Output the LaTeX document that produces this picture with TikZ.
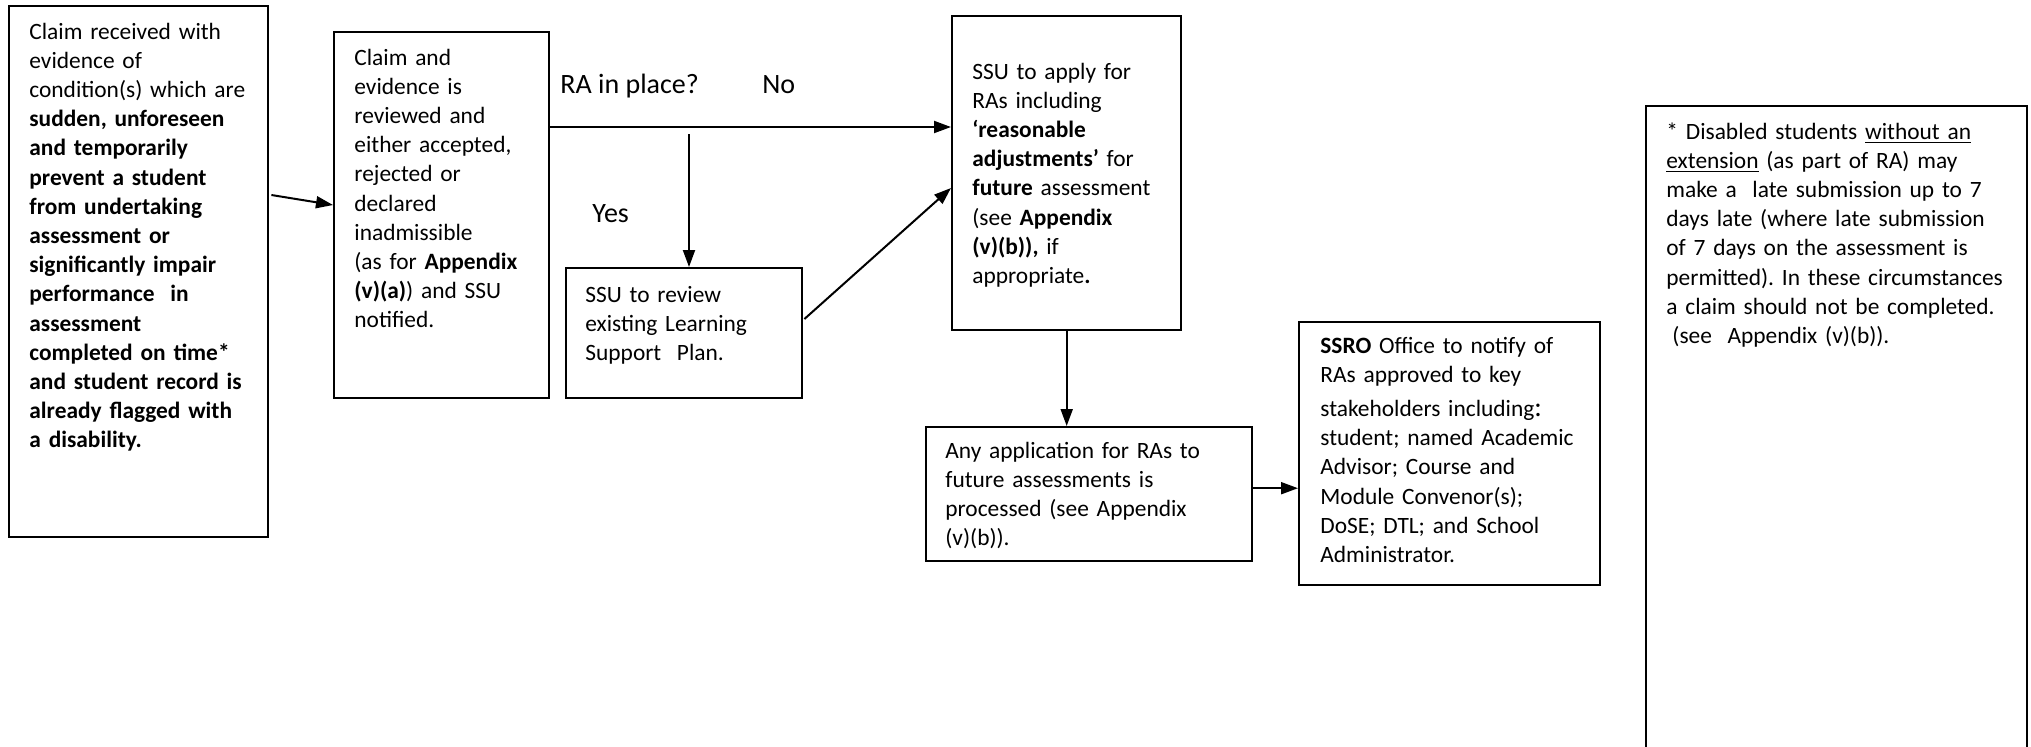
\documentclass[tikz,border=0pt]{standalone}
\usepackage{fontspec}
\setmainfont{Carlito}
\frenchspacing
\usetikzlibrary{arrows.meta,calc}
\begin{document}
\begin{tikzpicture}[x=0.5pt,y=-0.5pt,
  box/.style={draw, line width=1.2pt, inner sep=0pt, anchor=north west},
  txt/.style={anchor=base west, inner sep=0pt, align=left, text width=#1, font=\fontsize{11.7}{14.6}\selectfont},
  lbl/.style={anchor=base west, inner sep=0pt, font=\fontsize{14}{17}\selectfont},
  arr/.style={line width=1pt, -{Triangle[length=8.5pt,width=6pt]}}]
\useasboundingbox (0,0) rectangle (2031,746);
% boxes
\node[box, minimum width=129.5pt, minimum height=265.5pt] (b1) at (8,5) {};
\node[box, minimum width=107.5pt, minimum height=183pt] (b2) at (333,31) {};
\node[box, minimum width=118pt, minimum height=65pt] (b3) at (565,267) {};
\node[box, minimum width=114.5pt, minimum height=157pt] (b4) at (951,15) {};
\node[box, minimum width=163pt, minimum height=67pt] (b5) at (925,426) {};
\node[box, minimum width=150.5pt, minimum height=131.5pt] (b6) at (1298,321) {};
\node[box, minimum width=190.5pt, minimum height=350pt] (b7) at (1645,105) {};
% texts
\node[txt=125pt] (t1) at (29,39) {Claim received with\\ evidence of\\ condition(s) which are\\
\textbf{sudden, unforeseen}\\ \textbf{and temporarily}\\ \textbf{prevent a student}\\
\textbf{from undertaking}\\ \textbf{assessment or}\\ \textbf{significantly impair}\\
\textbf{performance~ in}\\ \textbf{assessment}\\ \textbf{completed on time*}\\
\textbf{and student record is}\\ \textbf{already flagged with}\\ \textbf{a disability.}};
\node[txt=105pt] (t2) at (354,65) {Claim and\\ evidence is\\ reviewed and\\ either accepted,\\
rejected or\\ declared\\ inadmissible\\ (as for \textbf{Appendix}\\ \textbf{(v)(a)}) and SSU\\ notified.};
\node[txt=115pt] (t3) at (585,302) {SSU to review\\ existing Learning\\ Support~ Plan.};
\node[txt=110pt] (t4) at (972,79) {SSU to apply for\\ RAs including\\ \textbf{‘reasonable}\\
\textbf{adjustments’} for\\ \textbf{future} assessment\\ (see \textbf{Appendix}\\ \textbf{(v)(b)),} if\\ appropriate\textbf{.}};
\node[txt=160pt] (t5) at (945,458) {Any application for RAs to\\ future assessments is\\ processed (see Appendix\\ (v)(b)).};
\node[txt=145pt] (t6) at (1320,353) {\textbf{SSRO} Office to notify of\\ RAs approved to key\\[2.5pt]
stakeholders including{\fontsize{14}{14}\selectfont:}\\ student; named Academic\\ Advisor; Course and\\ Module Convenor(s);\\ DoSE; DTL; and School\\ Administrator.};
\node[txt=185pt] (t7) at (1666,139) {* Disabled students \underline{without an}\\ \underline{extension} (as part of RA) may\\
make a~ late submission up to 7\\ days late (where late submission\\ of 7 days on the assessment is\\
permitted). In these circumstances\\ a claim should not be completed.\\ \hspace*{3pt}(see~ Appendix (v)(b)).};
% labels
\node[lbl] (l1) at (560,93) {RA in place?};
\node[lbl] (l2) at (762,93) {No};
\node[lbl] (l3) at (592,222) {Yes};
% connectors
\draw[arr] ($(b1.north east)+(2,190)$) -- ($(b2.north west)+(0,174)$);
\coordinate (h1) at ($(b2.north east)+(0,96)$);
\draw[arr] (h1) -- (h1 -| b4.west);
\coordinate (v1) at (689,134);
\draw[arr] (v1) -- (v1 |- b3.north);
\draw[arr] ($(b3.north east)+(1,52)$) -- ($(b4.north west)+(0,173)$);
\draw[arr] (b4.south) -- (b4.south |- b5.north);
\coordinate (h2) at ($(b5.east)+(0,-6)$);
\draw[arr] (h2) -- (h2 -| b6.west);
\end{tikzpicture}
\end{document}
